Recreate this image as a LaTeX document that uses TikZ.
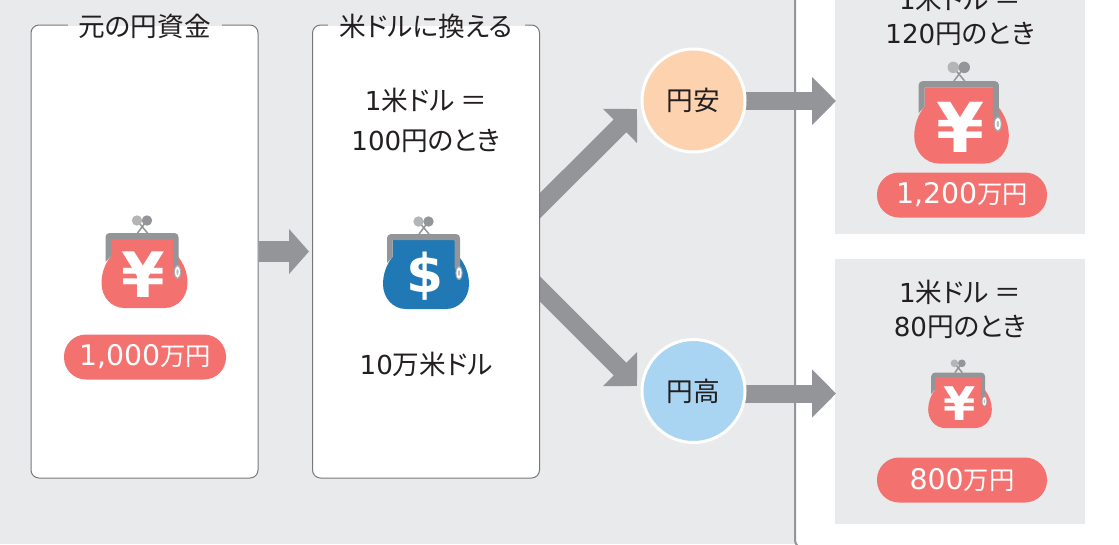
\documentclass[tikz,border=0pt]{standalone}
\usepackage{fontspec}
\setmainfont[RawFeature={+palt}]{Noto Sans CJK JP}
\newfontfamily\digitfont[Scale=0.98]{DejaVu Sans}
\newfontfamily\pilldigitfont[Scale=1.12]{DejaVu Sans}
\newfontfamily\markfont{DejaVu Sans}
\newcommand{\dg}[1]{{\digitfont #1}}
\newcommand{\dgp}[1]{{\pilldigitfont #1}}
\usetikzlibrary{arrows.meta}
\usetikzlibrary{calc}
\definecolor{bggray}{HTML}{E9EAEC}
\definecolor{arrowgray}{HTML}{939598}
\definecolor{linegray}{HTML}{77787B}
\definecolor{yenred}{HTML}{F3726F}
\definecolor{dollarblue}{HTML}{2078B4}
\definecolor{inkblack}{HTML}{231F20}
\definecolor{cheapcolor}{HTML}{FDD2AE}
\definecolor{strongcolor}{HTML}{A9D5F2}
\newcommand{\px}{0.75pt}
\pgfdeclarelayer{panel}
\pgfdeclarelayer{arrow}
\pgfsetlayers{panel,arrow,main}
\tikzset{
    basetext/.style={text=inkblack,font=\fontsize{20}{25.5}\selectfont,align=center,inner sep=0pt},
    roundbox/.style={draw=linegray,fill=white,line width=1*\px,rounded corners=8*\px,inner sep=0pt},
    boxgap/.style={fill=bggray,inner sep=0pt,minimum height=3*\px},
    panelbox/.style={fill=bggray,inner sep=0pt,minimum width=250*\px},
    ratecircle/.style={circle,draw=white,line width=3*\px,minimum size=103*\px,inner sep=0pt,text=inkblack,font=\fontsize{20}{20}\selectfont},
    pill/.style={fill=yenred,text=white,rounded corners=22*\px,minimum height=45*\px,inner sep=0pt,font=\fontsize{19}{19}\selectfont},
    blockarrow/.style={draw=arrowgray,line width=18*\px,-{Triangle[length=24*\px,width=47*\px,fill=arrowgray]}},
    pics/purse/.style 2 args={code={
        % body
        \fill[#1] (-33.5,-23) -- (28.5,-23) -- (33,-6) .. controls (40,2) and (43,12) .. (43,21)
            .. controls (43,35) and (33,46) .. (20,46) -- (-20,46)
            .. controls (-33,46) and (-43,35) .. (-43,21) .. controls (-43,12) and (-40,2) .. (-33.5,-6) -- cycle;
        % frame
        \fill[arrowgray,rounded corners=4*\px] (-39,0) -- (-39,-29) -- (34,-29) -- (34,8) -- (28.5,8)
            [sharp corners] -- (28.5,-23) -- (-33.5,-23) -- (-33.5,-6) -- cycle;
        % clasp
        \draw[arrowgray,line width=1.5*\px] (-7.5,-41.5) -- (3,-29) (2.5,-41.5) -- (-7,-29);
        \fill[arrowgray!70] (-7.5,-41.5) circle(5.2);
        \fill[arrowgray] (2.5,-41.5) circle(5.2);
        % rivet
        \fill[arrowgray!80] (33,10) ellipse(3.6 and 7);
        \fill[white] (33,10) ellipse(2.6 and 5.6);
        \fill[arrowgray!60] (33,10) ellipse(1.2 and 3);
        \node[transform shape,text=white,inner sep=0pt,font=\markfont\fontsize{47}{47}\bfseries\selectfont] (-mark) at (-1,13) {#2};
    }}
}

\begin{document}
\begin{tikzpicture}[x=\px,y=-\px]
\useasboundingbox (0,0) rectangle (1119,544);
\begin{pgfonlayer}{panel}
    \fill[bggray] (0,0) rectangle (1119,544);
    \filldraw[fill=white,draw=arrowgray,line width=2*\px,rounded corners=8*\px] (795,-20) rectangle (1140,548);
    \node[panelbox,minimum height=254*\px] (cheapPanel) at (960,107) {};
    \node[panelbox,minimum height=265*\px] (strongPanel) at (960,391.5) {};
\end{pgfonlayer}

% boxes
\node[roundbox,minimum width=227*\px,minimum height=453*\px] (yenbox) at (144.5,251.5) {};
\node[roundbox,minimum width=227*\px,minimum height=453*\px] (usbox) at (426,251.5) {};
\node[boxgap,minimum width=154*\px] (yenGap) at (yenbox.north) {};
\node[boxgap,minimum width=197*\px] (usGap) at (usbox.north) {};
\node[basetext] (yenTitle) at (144.5,26) {元の円資金};
\node[basetext] (usTitle) at (426,26) {米ドルに換える};

% rates
\node[ratecircle,fill=cheapcolor] (cheap) at (693.5,100.5) {円安};
\node[ratecircle,fill=strongcolor] (strong) at (693.5,391) {円高};

% arrows
\coordinate (cheapIn) at (637,109);
\coordinate (strongIn) at (637,386);
\coordinate (cheapOut) at (836,101);
\coordinate (strongOut) at (836,393.5);
\begin{pgfonlayer}{arrow}
    \draw[blockarrow,line width=21*\px,-{Triangle[length=20*\px,width=44*\px,fill=arrowgray]},shorten >=3*\px] (yenbox.east) -- (usbox.west);
    \draw[blockarrow] ($(usbox.east)+(-19,-27)$) -- (cheapIn);
    \draw[blockarrow] ($(usbox.east)+(-19,18.5)$) -- (strongIn);
    \draw[blockarrow] (cheap.center |- cheapOut) -- (cheapOut);
    \draw[blockarrow] (strong.center |- strongOut) -- (strongOut);
\end{pgfonlayer}

% purses
\pic (yenPurse) at (144.5,262) {purse={yenred}{¥}};
\pic (usPurse) at (426,263) {purse={dollarblue}{\fontsize{40}{40}\selectfont\$}};
\pic[scale=1.1] (cheapPurse) at (961.5,113) {purse={yenred}{¥}};
\pic[scale=0.74] (strongPurse) at (960,394) {purse={yenred}{¥}};

% labels
\node[pill,minimum width=162*\px] (yenAmount) at (145,357) {\dgp{1,000}万円};
\node[pill,minimum width=170*\px] (cheapAmount) at (962,195) {\dgp{1,200}万円};
\node[pill,minimum width=170*\px] (strongAmount) at (962,480) {\dgp{800}万円};
\node[basetext] (usRate) at (426,120) {\dg{1}米ドル ＝\\[4.5pt]\dg{100}円のとき};
\node[basetext] (usAmount) at (426,364) {\dg{10}万米ドル};
\node[basetext] (cheapRate) at (960,16) {\dg{1}米ドル ＝\\\dg{120}円のとき};
\node[basetext] (strongRate) at (960,309.5) {\dg{1}米ドル ＝\\\dg{80}円のとき};
\end{tikzpicture}
\end{document}
